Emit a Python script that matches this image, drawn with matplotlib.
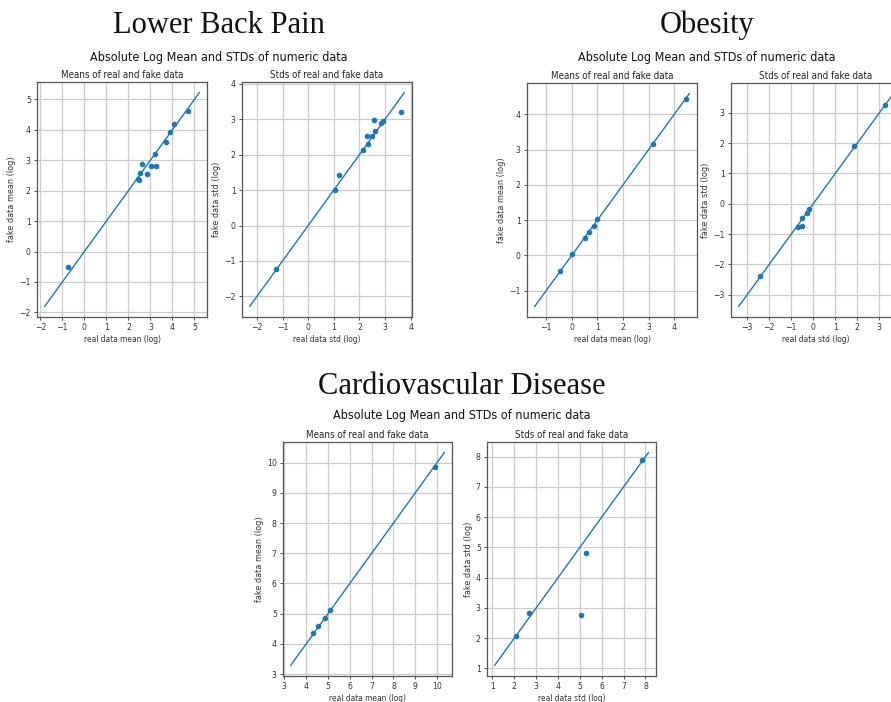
"""
Абсолютные логарифмы средних и СКО: реальные vs сгенерированные данные
"""

import matplotlib
matplotlib.use("Agg")
import matplotlib.pyplot as plt
from matplotlib import font_manager
from matplotlib.ticker import MultipleLocator

# Lower Back Pain
lbp_mean_real = [-0.76, 2.43, 2.47, 2.54, 2.62, 2.83, 3.04, 3.19, 3.25, 3.72, 3.91, 4.08, 4.73]
lbp_mean_fake = [-0.52, 2.37, 2.35, 2.59, 2.88, 2.56, 2.80, 3.20, 2.80, 3.61, 3.92, 4.19, 4.63]
lbp_mean_diag = [-1.80, 5.22]
lbp_std_real = [-1.27, 1.04, 1.21, 2.14, 2.32, 2.30, 2.49, 2.57, 2.60, 2.84, 2.91, 3.61]
lbp_std_fake = [-1.22, 1.00, 1.42, 2.12, 2.30, 2.52, 2.54, 2.98, 2.67, 2.90, 2.96, 3.20]
lbp_std_diag = [-2.28, 3.75]

# Obesity
obs_mean_real = [-0.45, -0.01, 0.51, 0.66, 0.86, 0.97, 3.17, 4.45]
obs_mean_fake = [-0.44, 0.03, 0.50, 0.65, 0.84, 1.02, 3.17, 4.43]
obs_mean_diag = [-1.45, 4.59]
obs_std_real = [-2.42, -0.68, -0.52, -0.53, -0.27, -0.18, 1.83, 3.26]
obs_std_fake = [-2.37, -0.76, -0.72, -0.46, -0.31, -0.16, 1.91, 3.25]
obs_std_diag = [-3.38, 3.63]

# Cardiovascular Disease
cvd_mean_real = [4.32, 4.56, 4.85, 5.09, 9.89]
cvd_mean_fake = [4.35, 4.58, 4.85, 5.13, 9.87]
cvd_mean_diag = [3.29, 10.33]
cvd_std_real = [2.08, 2.67, 5.06, 5.26, 7.86]
cvd_std_fake = [2.08, 2.82, 2.78, 4.82, 7.88]
cvd_std_diag = [1.10, 8.13]

W, H = 891, 702
BLUE = "#1f77b4"

# узкий шрифт, если есть
fams = {(f.name, f.stretch) for f in font_manager.fontManager.ttflist}
if ("DejaVu Sans", "condensed") in fams:
    SANS = dict(family="DejaVu Sans", stretch="condensed")
elif any(n == "Liberation Sans Narrow" for n, _ in fams):
    SANS = dict(family="Liberation Sans Narrow")
else:
    SANS = dict(family="DejaVu Sans")

plt.rcParams["font.family"] = SANS["family"]
if "stretch" in SANS:
    plt.rcParams["font.stretch"] = SANS["stretch"]

fig = plt.figure(figsize=(W / 100, H / 100), dpi=100)


def px_axes(left, top, right, bottom):
    return fig.add_axes([left / W, 1 - bottom / H, (right - left) / W, (bottom - top) / H])


def draw_panel(ax, real, fake, diag, title, xlabel, ylabel):
    ax.plot(diag, diag, color=BLUE, linewidth=1)
    ax.scatter(real, fake, s=9, color=BLUE, zorder=3)
    ax.xaxis.set_major_locator(MultipleLocator(1))
    ax.yaxis.set_major_locator(MultipleLocator(1))
    ax.set_title(title, fontsize=7, pad=3, color="#222222")
    ax.set_xlabel(xlabel, fontsize=6, labelpad=2, color="#333333")
    ax.set_ylabel(ylabel, fontsize=6.5, labelpad=2, color="#333333")
    ax.grid(True, color="#cccccc", linewidth=0.9)
    ax.set_axisbelow(True)
    ax.tick_params(labelsize=6.2, length=2.5, width=0.6, pad=2, colors="#333333")
    for sp in ax.spines.values():
        sp.set_color("#555555")
        sp.set_linewidth(0.9)


def heading(x, y, text):
    fig.text(x / W, 1 - y / H, text, ha="center", va="baseline",
             fontsize=22, family="Liberation Serif", color="#111111")


def suptitle(x, y, text):
    fig.text(x / W, 1 - y / H, text, ha="center", va="center",
             fontsize=9, color="#111111")


groups = [
    ("Lower Back Pain", 219, 33, 57,
     (37, 82, 207, 317), (242, 82, 412, 317),
     (lbp_mean_real, lbp_mean_fake, lbp_mean_diag),
     (lbp_std_real, lbp_std_fake, lbp_std_diag)),
    ("Obesity", 707, 33, 57,
     (527, 83, 697, 317), (731, 83, 901, 317),
     (obs_mean_real, obs_mean_fake, obs_mean_diag),
     (obs_std_real, obs_std_fake, obs_std_diag)),
    ("Cardiovascular Disease", 462, 394, 416,
     (283, 442, 452, 676), (487, 442, 656, 676),
     (cvd_mean_real, cvd_mean_fake, cvd_mean_diag),
     (cvd_std_real, cvd_std_fake, cvd_std_diag)),
]

for name, cx, hy, sy, box_m, box_s, means, stds in groups:
    heading(cx, hy, name)
    suptitle(cx, sy, "Absolute Log Mean and STDs of numeric data")
    ax_m = px_axes(*box_m)
    draw_panel(ax_m, *means, "Means of real and fake data",
               "real data mean (log)", "fake data mean (log)")
    ax_s = px_axes(*box_s)
    draw_panel(ax_s, *stds, "Stds of real and fake data",
               "real data std (log)", "fake data std (log)")

fig.savefig("out.png", dpi=100)
